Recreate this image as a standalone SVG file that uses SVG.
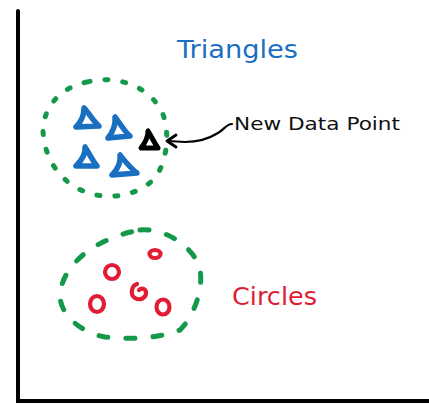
<svg xmlns="http://www.w3.org/2000/svg" width="429" height="404" viewBox="0 0 429 404">
<defs>
<style>
.axis{stroke:#000;stroke-width:4;fill:none;stroke-linecap:round}
.grp{fill:none;stroke:#14994a;stroke-width:5;stroke-linecap:round}
.tri{fill:none;stroke:#1b6fc1;stroke-width:5.5;stroke-linejoin:round;stroke-linecap:round}
.new{fill:none;stroke:#000;stroke-width:5;stroke-linejoin:round;stroke-linecap:round}
.circ{fill:none;stroke:#e11d35;stroke-width:4.2;stroke-linecap:round}
.lbl{font-family:"DejaVu Sans","Liberation Sans",sans-serif}
</style>
</defs>
<rect width="429" height="404" fill="#fff"/>
<g id="axes">
<path class="axis" d="M18 11 L18 401 L429 401"/>
</g>
<g id="triangles-cluster">
<path class="grp" d="M87 82 C120 74 150 88 162 112 C170 130 168 160 155 178 C140 194 115 200 92 194 C62 186 44 160 43 130 C44 105 62 87 87 82 Z" stroke-dasharray="3 15"/>
<path class="tri" d="M84 108 C84 117 80 123 76 127 L99 126 C93 121 89 113 84 108 Z"/>
<path class="tri" d="M115 117 C116 126 112 133 108 138 L130 136 C124 131 120 123 115 117 Z"/>
<path class="tri" d="M85 147 C86 155 81 161 76 166 L97 166 C92 160 89 153 85 147 Z"/>
<path class="tri" d="M120 155 C121 163 117 170 112 175 L137 173 C130 168 125 161 120 155 Z"/>
<text class="lbl" x="177" y="58" font-size="24" fill="#1b6fc1" textLength="121" lengthAdjust="spacingAndGlyphs">Triangles</text>
</g>
<g id="new-data-point">
<path class="new" d="M148 131 C148 138 145 143 141 148 L158 148 C154 142 151 136 148 131 Z"/>
<text class="lbl" x="234" y="130" font-size="17" fill="#111" textLength="166" lengthAdjust="spacingAndGlyphs">New Data Point</text>
</g>
<g id="circles-cluster">
<path class="grp" d="M140 230 C165 228 190 245 199 265 C205 285 195 315 180 330 C160 338 130 340 105 337 C80 332 60 315 60 295 C62 265 95 238 140 230 Z" stroke-dasharray="9 18"/>
<ellipse class="circ" cx="155" cy="254" rx="5.5" ry="4"/>
<ellipse class="circ" cx="112" cy="272" rx="7" ry="7"/>
<path class="circ" d="M137 284 C131 286 130 295 135 298 C140 301 146 298 146 293 C146 289 142 287 139 290"/>
<ellipse class="circ" cx="97" cy="304" rx="7" ry="8"/>
<ellipse class="circ" cx="163" cy="307" rx="6.5" ry="7.5"/>
<text class="lbl" x="232" y="305" font-size="24" fill="#e11d35" textLength="85" lengthAdjust="spacingAndGlyphs">Circles</text>
</g>
<g id="connectors">
<path d="M232 124 C226 124 224 130 218 133 C210 138 200 142 185 142 L168 141" fill="none" stroke="#000" stroke-width="2.2" stroke-linecap="round"/>
<path d="M176 135 L167 141 L176 147" fill="none" stroke="#000" stroke-width="2.8" stroke-linecap="round" stroke-linejoin="round"/>
</g>
</svg>
